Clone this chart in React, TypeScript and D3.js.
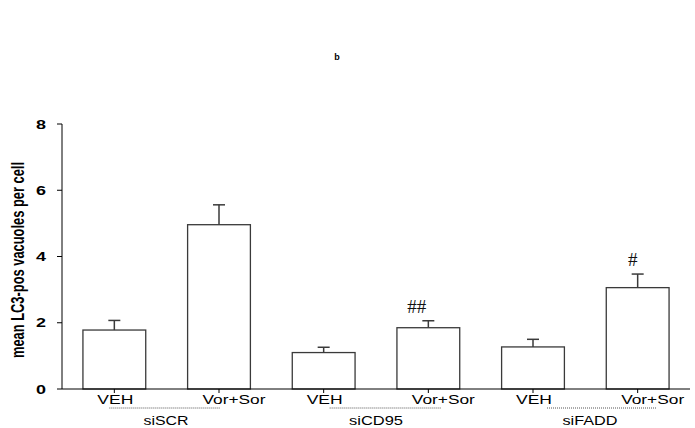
import React from "react";
import * as d3 from "d3";

const categories = ["VEH", "Vor+Sor", "VEH ", "Vor+Sor ", "VEH  ", "Vor+Sor  "];
const barLabels = ["VEH", "Vor+Sor", "VEH", "Vor+Sor", "VEH", "Vor+Sor"];
const means = [1.78, 4.96, 1.1, 1.85, 1.27, 3.06];
const errors = [0.29, 0.6, 0.16, 0.21, 0.23, 0.41];
const annotations = ["", "", "", "##", "", "#"];
const groups = ["siSCR", "siCD95", "siFADD"];
const yTicks = [0, 2, 4, 6, 8];
const yLabel = "mean LC3-pos vacuoles per cell";

const W = 695;
const H = 428;

export default function App() {
  const x = d3
    .scaleBand<string>()
    .domain(categories)
    .range([62, 690])
    .paddingInner(0.4)
    .paddingOuter(0.2);
  const y = d3.scaleLinear().domain([0, 8]).range([389, 124]);
  const bw = x.bandwidth();
  const cx = (i: number) => (x(categories[i]) as number) + bw / 2;

  const stroke = "#3a3a3a";
  const sans = "Arial, 'Liberation Sans', Helvetica, sans-serif";

  const groupLine = [
    [cx(0) - 5, cx(1) + 1],
    [cx(2) + 6, cx(3) + 13],
    [cx(4) + 14, cx(5) + 19],
  ];
  const groupLabelX = [166, 376, 590];
  const groupLabelW = [45, 54, 55];

  return (
    <svg
      width={W}
      height={H}
      style={{ position: "absolute", left: 0, top: 0, background: "#fff" }}
    >
      <rect x={0} y={0} width={W} height={H} fill="#fff" />
      <text x={337} y={60} fontFamily={sans} fontWeight="bold" fontSize={9} textAnchor="middle" fill="#000">
        b
      </text>

      {means.map((m, i) => (
        <g key={i}>
          <rect
            x={x(categories[i])}
            y={y(m)}
            width={bw}
            height={y(0) - y(m)}
            fill="#fff"
            stroke={stroke}
            strokeWidth={1.3}
          />
          <line x1={cx(i)} x2={cx(i)} y1={y(m)} y2={y(m + errors[i])} stroke={stroke} strokeWidth={1.5} />
          <line
            x1={cx(i) - 6}
            x2={cx(i) + 6}
            y1={y(m + errors[i])}
            y2={y(m + errors[i])}
            stroke={stroke}
            strokeWidth={1.5}
          />
          {annotations[i] && (
            <text
              x={cx(i) - (annotations[i].length === 2 ? 11.5 : 5)}
              y={y(m + errors[i]) - 8}
              fontFamily="'Liberation Serif', 'Times New Roman', serif"
              fontSize={19}
              textAnchor="middle"
              fill="#111"
            >
              {annotations[i]}
            </text>
          )}
        </g>
      ))}

      <line x1={62} x2={62} y1={y(8)} y2={y(0)} stroke="#000" strokeWidth={1} />
      {yTicks.map((t) => (
        <g key={t}>
          <line x1={57} x2={62} y1={y(t)} y2={y(t)} stroke="#000" strokeWidth={1} />
          <text
            x={46}
            y={y(t) + 4.6}
            fontFamily={sans}
            fontWeight="bold"
            fontSize={13}
            textAnchor="end"
            textLength={10}
            lengthAdjust="spacingAndGlyphs"
          >
            {t}
          </text>
        </g>
      ))}

      <line x1={62} x2={690} y1={y(0)} y2={y(0)} stroke="#000" strokeWidth={1} />
      {categories.map((c, i) => (
        <g key={c}>
          <line x1={cx(i)} x2={cx(i)} y1={y(0)} y2={y(0) + 4} stroke="#000" strokeWidth={1} />
          <text
            x={cx(i) + (barLabels[i] === "VEH" ? 1 : 15)}
            y={404}
            fontFamily={sans}
            fontSize={13}
            textAnchor="middle"
            textLength={barLabels[i] === "VEH" ? 36 : 63}
            lengthAdjust="spacingAndGlyphs"
          >
            {barLabels[i]}
          </text>
        </g>
      ))}

      {groups.map((g, k) => (
        <g key={g}>
          <line
            x1={groupLine[k][0]}
            x2={groupLine[k][1]}
            y1={408}
            y2={408}
            stroke="#555"
            strokeWidth={1}
            strokeDasharray="1,1"
          />
          <text
            x={groupLabelX[k]}
            y={425}
            fontFamily={sans}
            fontSize={13}
            textAnchor="middle"
            textLength={groupLabelW[k]}
            lengthAdjust="spacingAndGlyphs"
          >
            {g}
          </text>
        </g>
      ))}

      <text
        transform={`translate(18,260) scale(1.35,1) rotate(-90)`}
        fontFamily={sans}
        fontSize={14}
        fontWeight="bold"
        textAnchor="middle"
        dominantBaseline="central"
        textLength={196}
        lengthAdjust="spacingAndGlyphs"
      >
        {yLabel}
      </text>
    </svg>
  );
}
